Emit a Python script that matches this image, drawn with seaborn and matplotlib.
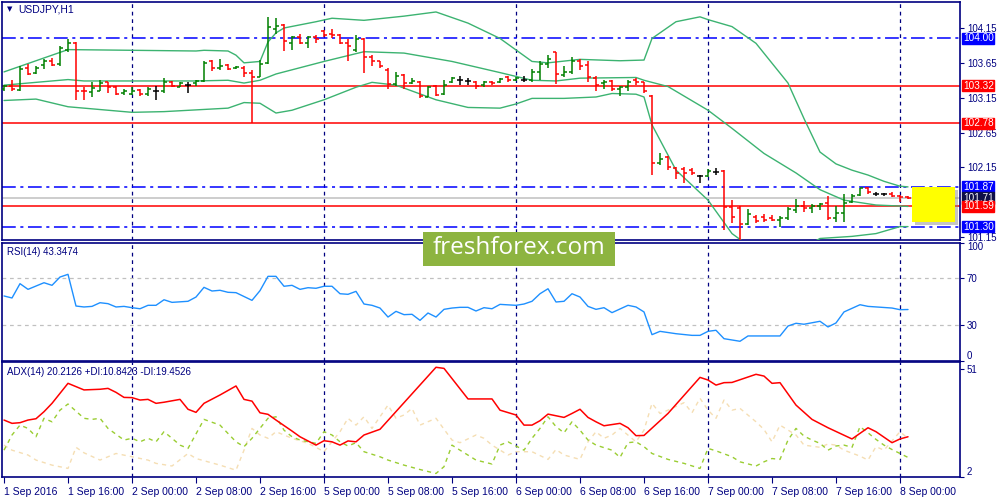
import numpy as np
import pandas as pd
import seaborn as sns
import matplotlib.pyplot as plt
from matplotlib.patches import Rectangle

sns.set_style("white")
plt.rcParams['font.family'] = ['Liberation Sans', 'DejaVu Sans']

# USDJPY H1, one bar per hour starting 1 Sep 2016 08:00
opens = [103.27, 103.32, 103.26, 103.57, 103.50, 103.62, 103.68, 103.63, 103.84, 103.94,
         103.25, 103.23, 103.25, 103.37, 103.30, 103.22, 103.21, 103.26, 103.20, 103.25,
         103.24, 103.38, 103.31, 103.33, 103.36, 103.39, 103.67, 103.57, 103.62, 103.57,
         103.58, 103.50, 103.45, 103.65, 104.14, 104.19, 103.93, 104.02, 103.94, 104.02,
         104.10, 104.07, 104.05, 103.94, 103.84, 103.99, 103.73, 103.67, 103.55, 103.35,
         103.48, 103.36, 103.38, 103.16, 103.32, 103.20, 103.37, 103.40, 103.39, 103.38,
         103.33, 103.38, 103.38, 103.45, 103.41, 103.41, 103.40, 103.52, 103.63, 103.80,
         103.48, 103.52, 103.68, 103.62, 103.43, 103.36, 103.39, 103.27, 103.30, 103.40,
         103.37, 103.17, 102.22, 102.30, 102.14, 102.12, 102.11, 102.02, 102.03, 102.09,
         102.10, 101.58, 101.56, 101.34, 101.44, 101.44, 101.43, 101.40, 101.43, 101.54,
         101.60, 101.56, 101.59, 101.64, 101.42, 101.49, 101.66, 101.75, 101.85, 101.77,
         101.77, 101.77, 101.74, 101.73]
highs = [103.33, 103.40, 103.61, 103.64, 103.60, 103.70, 103.72, 103.89, 103.99, 103.95,
         103.30, 103.38, 103.40, 103.38, 103.32, 103.27, 103.31, 103.27, 103.30, 103.32,
         103.43, 103.39, 103.38, 103.38, 103.40, 103.67, 103.69, 103.70, 103.63, 103.60,
         103.60, 103.55, 103.69, 104.31, 104.29, 104.21, 104.04, 104.07, 104.03, 104.05,
         104.12, 104.13, 104.07, 103.99, 104.05, 104.00, 103.76, 103.68, 103.57, 103.52,
         103.49, 103.43, 103.39, 103.32, 103.33, 103.40, 103.45, 103.46, 103.43, 103.39,
         103.39, 103.39, 103.43, 103.46, 103.44, 103.46, 103.56, 103.67, 103.76, 103.81,
         103.60, 103.73, 103.70, 103.68, 103.46, 103.40, 103.41, 103.32, 103.41, 103.43,
         103.38, 103.19, 102.35, 102.31, 102.15, 102.16, 102.14, 102.04, 102.12, 102.14,
         102.11, 101.68, 101.60, 101.55, 101.47, 101.48, 101.47, 101.45, 101.58, 101.69,
         101.67, 101.62, 101.64, 101.74, 101.59, 101.77, 101.77, 101.86, 101.87, 101.79,
         101.78, 101.79, 101.75, 101.74]
lows = [103.25, 103.25, 103.25, 103.48, 103.49, 103.56, 103.60, 103.60, 103.81, 103.12,
        103.11, 103.16, 103.24, 103.22, 103.19, 103.19, 103.19, 103.18, 103.18, 103.12,
        103.22, 103.30, 103.30, 103.22, 103.32, 103.38, 103.53, 103.55, 103.55, 103.56,
        103.44, 102.79, 103.44, 103.64, 104.06, 103.82, 103.84, 103.92, 103.87, 103.94,
        104.02, 104.00, 103.92, 103.68, 103.81, 103.51, 103.60, 103.57, 103.27, 103.32,
        103.27, 103.35, 103.14, 103.16, 103.17, 103.19, 103.36, 103.33, 103.33, 103.28,
        103.31, 103.33, 103.36, 103.38, 103.39, 103.37, 103.38, 103.41, 103.57, 103.35,
        103.44, 103.49, 103.55, 103.38, 103.25, 103.28, 103.24, 103.17, 103.24, 103.33,
        103.22, 102.04, 102.18, 102.11, 101.98, 101.92, 102.04, 101.92, 102.01, 102.04,
        101.25, 101.35, 101.08, 101.32, 101.35, 101.36, 101.38, 101.30, 101.40, 101.50,
        101.51, 101.50, 101.54, 101.39, 101.36, 101.37, 101.64, 101.74, 101.77, 101.74,
        101.74, 101.72, 101.66, 101.69]
closes = [103.32, 103.27, 103.56, 103.49, 103.57, 103.67, 103.62, 103.87, 103.94, 103.25,
          103.24, 103.29, 103.36, 103.30, 103.21, 103.24, 103.25, 103.20, 103.27, 103.25,
          103.38, 103.32, 103.36, 103.33, 103.39, 103.65, 103.57, 103.60, 103.56, 103.59,
          103.50, 103.44, 103.64, 104.16, 104.18, 103.97, 104.02, 103.94, 104.02, 103.99,
          104.05, 104.05, 103.93, 103.89, 103.99, 103.73, 103.67, 103.60, 103.35, 103.46,
          103.36, 103.39, 103.17, 103.30, 103.19, 103.33, 103.43, 103.40, 103.39, 103.32,
          103.38, 103.36, 103.42, 103.40, 103.43, 103.41, 103.52, 103.64, 103.70, 103.49,
          103.52, 103.68, 103.60, 103.44, 103.33, 103.38, 103.27, 103.30, 103.38, 103.37,
          103.24, 102.22, 102.27, 102.15, 102.07, 102.07, 102.07, 102.02, 102.10, 102.09,
          101.58, 101.44, 101.34, 101.48, 101.38, 101.40, 101.40, 101.43, 101.55, 101.59,
          101.56, 101.60, 101.63, 101.43, 101.49, 101.64, 101.74, 101.85, 101.79, 101.77,
          101.77, 101.74, 101.72, 101.71]

# Bollinger bands (bar index, price)
bb_up_idx = [0, 8, 16, 24, 25, 28, 29, 30, 32, 33, 34, 35, 39, 41, 45, 50, 54, 58, 62, 66,
             68, 72, 77, 80, 81, 84, 87, 88, 91, 94, 98, 100, 102, 104, 106, 108, 110, 112, 113]
bb_up = [103.52, 103.84, 103.83, 103.82, 103.83, 103.82, 103.76, 103.65, 103.67, 103.95,
         104.08, 104.15, 104.24, 104.29, 104.26, 104.32, 104.38, 104.22, 104.00, 103.67,
         103.65, 103.70, 103.68, 103.69, 104.00, 104.24, 104.31, 104.27, 104.17, 103.93,
         103.36, 102.85, 102.37, 102.20, 102.11, 102.04, 101.95, 101.88, 101.87]
bb_mid_idx = [0, 8, 10, 24, 28, 30, 32, 34, 40, 45, 50, 56, 62, 66, 69, 72, 79, 80, 83, 88,
              91, 95, 99, 102, 105, 109, 113]
bb_mid = [103.33, 103.41, 103.39, 103.39, 103.40, 103.36, 103.40, 103.49, 103.67, 103.81,
          103.79, 103.67, 103.51, 103.40, 103.39, 103.43, 103.44, 103.40, 103.31, 102.97,
          102.71, 102.35, 102.07, 101.83, 101.68, 101.61, 101.59]
bb_low_idx = [0, 4, 8, 16, 20, 28, 30, 32, 34, 36, 40, 44, 46, 49, 54, 58, 62, 64, 66, 70,
              74, 76, 79, 80, 81, 84, 88, 91, 94, 97, 100, 102, 106, 109, 112, 113]
bb_low = [103.11, 103.13, 103.02, 102.94, 102.95, 103.00, 103.08, 103.07, 102.93, 102.97,
          103.12, 103.30, 103.37, 103.33, 103.12, 103.01, 103.00, 103.06, 103.14, 103.14,
          103.16, 103.21, 103.20, 103.16, 102.76, 102.11, 101.68, 101.20, 100.95, 100.90,
          101.00, 101.13, 101.16, 101.20, 101.30, 101.30]

level_values = [104.00, 103.32, 102.78, 101.87, 101.71, 101.59, 101.30]
level_kinds = ['blue', 'red', 'red', 'blue', 'bid', 'red', 'blue']

# RSI(14)
rsi_idx = [0, 1, 2, 3, 5, 6, 7, 8, 9, 10, 11, 12, 13, 14, 15, 16, 17, 18, 19, 20, 21, 23, 24,
           25, 26, 27, 28, 29, 31, 32, 33, 34, 35, 36, 37, 38, 39, 40, 41, 42, 43, 44, 45, 46,
           47, 48, 49, 50, 51, 52, 53, 54, 55, 56, 57, 58, 59, 60, 61, 62, 64, 65, 66, 67, 68,
           69, 70, 71, 72, 73, 74, 75, 76, 78, 79, 80, 81, 82, 84, 86, 87, 88, 89, 90, 92, 93,
           97, 98, 99, 100, 102, 103, 104, 105, 107, 108, 111, 112, 113]
rsi = [54.8, 53.1, 65.2, 60.4, 66.0, 63.8, 70.8, 73.1, 46.3, 45.5, 46.0, 49.1, 48.3, 45.5,
       46.0, 44.9, 44.0, 46.9, 46.9, 51.6, 49.4, 50.3, 53.9, 62.1, 59.0, 59.6, 57.9, 57.6,
       51.1, 59.3, 71.4, 71.4, 63.0, 63.8, 60.4, 61.8, 61.3, 63.0, 63.0, 56.7, 56.2, 58.7,
       48.0, 46.9, 44.6, 37.0, 41.8, 39.0, 39.3, 34.2, 40.4, 37.0, 43.5, 44.6, 45.2, 45.2,
       42.1, 44.9, 44.0, 47.7, 46.9, 48.0, 50.3, 56.7, 60.9, 49.7, 50.3, 56.7, 53.9, 46.0,
       43.5, 44.9, 40.7, 46.9, 45.5, 41.3, 22.1, 24.9, 22.9, 21.5, 21.5, 24.9, 25.8, 18.7,
       16.5, 21.0, 21.0, 29.4, 31.7, 30.9, 33.4, 28.6, 32.0, 41.3, 47.4, 46.0, 44.6, 43.2,
       43.35]

# ADX(14) with +DI / -DI
adx_idx = [0, 1, 2, 3, 4, 5, 6, 8, 10, 12, 13, 14, 15, 16, 17, 18, 19, 20, 22, 23, 24, 25,
           27, 29, 30, 31, 32, 33, 34, 36, 37, 39, 40, 41, 42, 43, 44, 45, 47, 54, 55, 58, 61,
           62, 64, 65, 66, 67, 68, 70, 71, 72, 73, 74, 75, 77, 78, 79, 80, 83, 87, 88, 89, 90,
           91, 94, 95, 96, 97, 99, 101, 103, 106, 108, 109, 111, 112, 113]
adx = [27.8, 26.3, 26.6, 27.8, 28.4, 31.6, 35.4, 44.5, 41.5, 41.8, 42.2, 40.4, 38.1, 38.0,
       36.9, 37.2, 35.4, 35.9, 37.2, 32.7, 31.3, 35.4, 39.2, 43.3, 37.2, 36.4, 31.1, 30.4,
       27.8, 22.8, 20.2, 16.4, 18.4, 17.9, 16.4, 18.3, 17.9, 21.0, 23.6, 51.8, 51.3, 37.4,
       37.4, 32.3, 30.1, 25.5, 25.5, 27.5, 30.5, 29.0, 30.8, 32.7, 29.0, 27.0, 25.2, 26.3,
       24.3, 20.7, 20.8, 30.8, 47.2, 46.0, 43.7, 44.8, 44.9, 48.6, 47.8, 44.5, 44.8, 34.6,
       28.1, 24.3, 19.2, 24.3, 22.5, 17.5, 19.2, 20.2]
pdi_idx = [0, 1, 2, 3, 4, 5, 6, 7, 8, 10, 11, 12, 13, 15, 16, 17, 18, 19, 20, 21, 22, 23,
           25, 27, 28, 29, 30, 31, 33, 34, 35, 36, 37, 39, 40, 41, 42, 43, 44, 45, 47, 48, 50,
           52, 54, 55, 56, 57, 59, 61, 62, 63, 65, 66, 67, 68, 69, 70, 71, 72, 73, 74, 76, 77,
           78, 79, 80, 81, 83, 85, 87, 88, 89, 91, 92, 94, 95, 96, 97, 98, 99, 100, 101, 102,
           103, 104, 105, 106, 107, 108, 109, 110, 111, 113]
pdi = [14.1, 21.0, 25.5, 24.0, 20.2, 28.6, 27.0, 32.3, 35.1, 28.6, 28.1, 28.6, 24.0, 18.7,
       19.5, 17.9, 19.5, 17.9, 22.5, 19.5, 16.4, 14.9, 28.1, 25.5, 21.7, 17.9, 15.7, 19.5,
       28.6, 29.3, 23.2, 20.2, 18.7, 17.2, 22.5, 21.0, 17.9, 16.0, 17.5, 13.4, 11.1, 9.6,
       7.3, 5.3, 3.5, 6.6, 16.4, 14.1, 9.6, 7.8, 16.4, 17.9, 14.1, 19.5, 24.0, 29.3, 24.8,
       22.0, 27.0, 23.2, 18.7, 16.4, 14.1, 10.8, 17.5, 17.9, 15.7, 12.6, 9.9, 8.1, 5.8, 14.9,
       13.8, 11.1, 8.8, 6.9, 8.8, 10.3, 9.9, 18.7, 24.0, 20.5, 18.7, 17.2, 14.1, 16.0, 16.4,
       15.4, 24.8, 22.0, 19.0, 16.4, 14.4, 10.8]
mdi_idx = [0, 1, 3, 4, 6, 8, 9, 10, 12, 14, 16, 18, 19, 21, 23, 24, 27, 29, 30, 31, 32, 33,
           34, 36, 38, 39, 40, 42, 43, 44, 45, 46, 47, 48, 49, 50, 51, 52, 54, 56, 57, 59, 60,
           61, 63, 64, 66, 68, 69, 70, 72, 73, 74, 75, 76, 77, 79, 80, 81, 82, 83, 85, 86, 87,
           88, 89, 90, 91, 92, 94, 95, 96, 97, 99, 100, 102, 103, 104, 105, 107, 108, 109, 110,
           112, 113]
mdi = [16.4, 14.1, 11.9, 9.6, 7.3, 5.8, 15.4, 12.9, 9.6, 12.6, 11.1, 9.6, 8.1, 6.9, 12.6,
       10.3, 7.3, 5.0, 14.1, 24.0, 21.0, 19.5, 22.5, 19.5, 17.2, 15.4, 13.4, 22.5, 28.6, 25.5,
       29.3, 24.0, 29.3, 34.6, 28.6, 30.1, 33.1, 25.5, 28.6, 18.7, 17.5, 21.0, 19.5, 16.4,
       11.9, 13.4, 13.4, 9.9, 14.4, 11.9, 9.9, 17.9, 22.5, 19.5, 21.0, 24.0, 17.9, 23.2, 35.4,
       30.8, 32.3, 35.7, 31.1, 37.7, 32.3, 28.6, 36.9, 32.3, 33.1, 27.0, 23.5, 17.9, 25.5,
       21.0, 16.4, 15.4, 16.9, 16.4, 14.1, 11.4, 9.6, 15.7, 14.1, 22.5, 19.45]

time_labels = ["1 Sep 2016", "1 Sep 16:00", "2 Sep 00:00", "2 Sep 08:00", "2 Sep 16:00",
               "5 Sep 00:00", "5 Sep 08:00", "5 Sep 16:00", "6 Sep 00:00", "6 Sep 08:00",
               "6 Sep 16:00", "7 Sep 00:00", "7 Sep 08:00", "7 Sep 16:00", "8 Sep 00:00"]
day_starts = [16, 40, 64, 88, 112]

NAVY = '#000080'
kind_color = {'blue': '#0000FF', 'red': '#FF0000', 'bid': '#C0C0C0'}
box_color = {'blue': '#0000FF', 'red': '#FF0000', 'bid': '#101048'}
box_order = {'blue': 0, 'bid': 1, 'red': 2}
blue_dashdot = (0, (9, 3, 2, 3))
dot_dash = (0, (3, 3))

fig = plt.figure(figsize=(10, 5), dpi=100)
ax_p = fig.add_axes([0.002, 0.52, 0.958, 0.476])
ax_r = fig.add_axes([0.002, 0.2784, 0.958, 0.2366])
ax_a = fig.add_axes([0.002, 0.046, 0.958, 0.23])

for ax in (ax_p, ax_r, ax_a):
    ax.set_xlim(-0.25, 119.5)
    ax.set_facecolor('white')
    for s in ax.spines.values():
        s.set_color(NAVY)
        s.set_linewidth(1.2)
    for d in day_starts:
        ax.axvline(d, color=NAVY, ls=dot_dash, lw=0.9, zorder=1)
    ax.yaxis.tick_right()
    ax.tick_params(axis='y', direction='out', length=3, color=NAVY,
                   labelcolor=NAVY, labelsize=7, pad=2, right=True, left=False)
    ax.set_xlabel('')
    ax.set_ylabel('')

# ---- price panel
ax_p.set_ylim(101.108, 104.523)
idx = np.arange(len(opens))
o = np.array(opens)
c = np.array(closes)
bar_cols = np.where(c > o, '#008000', np.where(c < o, '#FF0000', '#000000'))

for v, k in zip(level_values, level_kinds):
    ls = blue_dashdot if k == 'blue' else '-'
    ax_p.axhline(v, color=kind_color[k], ls=ls, lw=1.1, zorder=2)

sns.lineplot(x=bb_up_idx, y=bb_up, ax=ax_p, color='#3CB371', lw=1, zorder=3)
sns.lineplot(x=bb_mid_idx, y=bb_mid, ax=ax_p, color='#3CB371', lw=1, zorder=3)
sns.lineplot(x=bb_low_idx, y=bb_low, ax=ax_p, color='#3CB371', lw=1, zorder=3)

ax_p.vlines(idx, lows, highs, colors=bar_cols, lw=1.1, zorder=4)
ax_p.hlines(opens, idx - 0.38, idx, colors=bar_cols, lw=1.1, zorder=4)
ax_p.hlines(closes, idx, idx + 0.38, colors=bar_cols, lw=1.1, zorder=4)

# yellow marker box with shadow
ax_p.add_patch(Rectangle((113.9, 101.32), 5.4, 0.50, fc='#808080', ec='none', alpha=0.45, zorder=5))
ax_p.add_patch(Rectangle((113.5, 101.37), 5.4, 0.50, fc='#FFFF00', ec='none', zorder=6))

ax_p.set_xticks([])
ax_p.set_yticks([104.15, 103.65, 103.15, 102.65, 102.15, 101.15])
ax_p.set_yticklabels(['104.15', '103.65', '103.15', '102.65', '102.15', '101.15'])

ytr = ax_p.get_yaxis_transform()
for v, k in zip(level_values, level_kinds):
    ax_p.text(1.003, v, f'{v:.2f}', transform=ytr, ha='left', va='center', fontsize=7.2,
              color='white', zorder=20 + box_order[k], clip_on=False,
              bbox=dict(boxstyle='square,pad=0.06', fc=box_color[k], ec=box_color[k]))

ax_p.text(0.0075, 0.983, '\u25BC', transform=ax_p.transAxes, ha='center', va='top',
          fontsize=5, color=NAVY, family=['DejaVu Sans'])
ax_p.text(0.017, 0.99, 'USDJPY,H1', transform=ax_p.transAxes, ha='left', va='top',
          fontsize=7.5, color=NAVY)

# ---- RSI panel
ax_r.set_ylim(0, 100)
ax_r.axhline(70, color='#C0C0C0', ls=dot_dash, lw=0.9, zorder=1)
ax_r.axhline(30, color='#C0C0C0', ls=dot_dash, lw=0.9, zorder=1)
sns.lineplot(x=rsi_idx, y=rsi, ax=ax_r, color='#1E90FF', lw=1, zorder=3)
ax_r.set_xticks([])
ax_r.set_yticks([0, 30, 70, 100])
ax_r.set_yticklabels(['0', '30', '70', '100'])
lbl = ax_r.get_yticklabels()
lbl[0].set_va('bottom')
lbl[3].set_va('top')
ax_r.text(0.005, 0.965, 'RSI(14) 43.3474', transform=ax_r.transAxes, ha='left', va='top',
          fontsize=7, color=NAVY)

# ---- ADX panel
ax_a.set_ylim(1.9, 54.2)
sns.lineplot(x=mdi_idx, y=mdi, ax=ax_a, color='#F5DEB3', lw=1, linestyle=dot_dash, zorder=2)
sns.lineplot(x=pdi_idx, y=pdi, ax=ax_a, color='#9ACD32', lw=1, linestyle=dot_dash, zorder=3)
sns.lineplot(x=adx_idx, y=adx, ax=ax_a, color='#FF0000', lw=1.1, zorder=4)
ax_a.set_yticks([2, 51])
ax_a.set_yticklabels(['2', '51'])
ax_a.get_yticklabels()[0].set_va('bottom')
ax_a.text(0.005, 0.96, 'ADX(14) 20.2126 +DI:10.8423 -DI:19.4526', transform=ax_a.transAxes,
          ha='left', va='top', fontsize=7, color=NAVY)

ax_a.set_xticks(list(range(0, 113, 8)))
ax_a.set_xticklabels(time_labels)
ax_a.tick_params(axis='x', direction='out', length=4, color=NAVY, labelcolor=NAVY,
                 labelsize=7.5, pad=3, bottom=True)
for t in ax_a.get_xticklabels():
    t.set_ha('left')

# watermark
fig.patches.append(Rectangle((0.4227, 0.468), 0.1923, 0.068, transform=fig.transFigure,
                             fc='#8DB440', ec='none', zorder=30, figure=fig))
fig.text(0.519, 0.503, 'freshforex.com', ha='center', va='center', color='white',
         fontsize=17.5, family=['Open Sans', 'DejaVu Sans'], zorder=31)

fig.savefig('out.png', dpi=100, facecolor='white')
